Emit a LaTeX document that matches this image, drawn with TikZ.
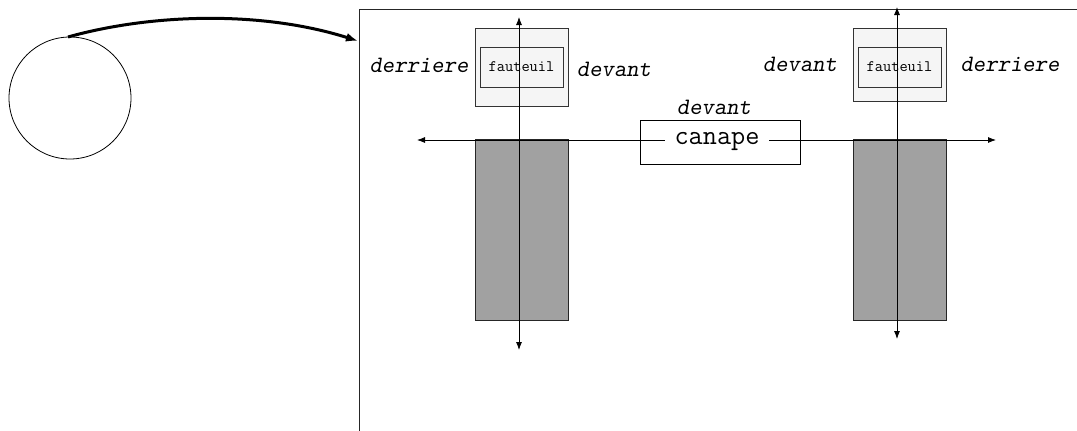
\documentclass[tikz,border=0pt]{standalone}
\usepackage{fontspec}
\usetikzlibrary{arrows.meta}
\begin{document}
\begin{tikzpicture}[x=1pt,y=-1pt,
  lbl/.style={font=\fontsize{23.5}{25}\selectfont\ttfamily\slshape, inner sep=0pt},
  outerbox/.style={draw=black!80, fill=black!4, line width=0.9pt},
  innerbox/.style={draw=black!80, line width=0.9pt},
  legbox/.style={draw=black!85, fill=black!37, line width=0.9pt},
  axisboth/.style={line width=0.8pt, {Latex[length=8pt,width=6pt]}-{Latex[length=8pt,width=6pt]}}]
\useasboundingbox (0,0) rectangle (1077,431);
% circle
\node[draw, circle, minimum size=122pt, inner sep=0pt, line width=0.8pt] (circ) at (70,98) {};
% big frame
\coordinate (fbl) at (359,431);
\coordinate (ftl) at (359,9);
\coordinate (ftr) at (1077,9);
\draw[line width=0.9pt, black!85] (fbl) -- (ftl) -- (ftr);
\coordinate (cstart) at (68,37);
\coordinate (cend) at (358,41);
\draw[line width=3pt, -{Latex[length=12pt,width=9pt]}] (cstart) .. controls (150,14) and (260,10) .. (cend);
% left fauteuil
\node[outerbox, minimum width=93pt, minimum height=78pt, inner sep=0pt] (fl) at (521.5,67) {};
\node[innerbox, minimum width=83pt, minimum height=40pt, inner sep=0pt] (fli) at (521.5,67) {};
\node[font=\fontsize{16}{18}\selectfont\ttfamily, inner sep=0pt] (flt) at (521.5,67) {fauteuil};
\node[legbox, minimum width=93pt, minimum height=181pt, inner sep=0pt] (legl) at (521.5,229.5) {};
% right fauteuil
\node[outerbox, minimum width=93pt, minimum height=73pt, inner sep=0pt] (fr) at (899.5,64.5) {};
\node[innerbox, minimum width=83pt, minimum height=40pt, inner sep=0pt] (fri) at (899.5,67) {};
\node[font=\fontsize{16}{18}\selectfont\ttfamily, inner sep=0pt] (frt) at (899.5,67) {fauteuil};
\node[legbox, minimum width=93pt, minimum height=181pt, inner sep=0pt] (legr) at (899.5,229.5) {};
% canape box
\node[draw, line width=0.9pt, minimum width=160pt, minimum height=44pt, inner sep=0pt] (canbox) at (720,142) {};
% axes
\coordinate (hl) at (417,140);
\coordinate (hr) at (996,140);
\draw[axisboth] (hl) -- (hr);
\coordinate (vlt) at (519,17);
\coordinate (vlb) at (519,350);
\draw[axisboth] (vlb) -- (vlt);
\coordinate (vrt) at (897,7);
\coordinate (vrb) at (897,339);
\draw[axisboth] (vrb) -- (vrt);
% canape text
\node[fill=white, inner xsep=10pt, inner ysep=4pt, font=\fontsize{27.5}{29}\selectfont\ttfamily] (can) at (717,142) {canape};
% labels
\node[lbl] (l1) at (419,65) {derriere};
\node[lbl] (l2) at (614,69) {devant};
\node[lbl] (l3) at (800,64) {devant};
\node[lbl] (l4) at (1010,64) {derriere};
\node[lbl] (l5) at (714,107) {devant};
\end{tikzpicture}
\end{document}
